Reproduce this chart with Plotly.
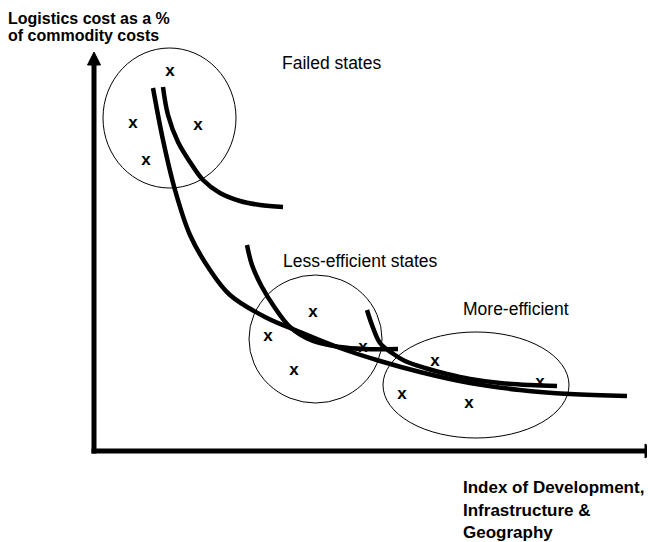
import plotly.graph_objects as go

W, H = 655, 542
PAGE_MARGIN = 8  # browser body margin; figure placed so data units == window pixels

# ---- data (diagram coordinates, window-pixel units) ----
main_x = [153, 163, 175, 190, 210, 230, 265, 300, 340, 380, 420, 470, 520, 570, 627]
main_y = [88, 140, 190, 235, 270, 295, 317, 332, 348, 361, 372, 383, 390, 394, 396]

failed_x = [163, 168, 178, 190, 203, 220, 240, 260, 283]
failed_y = [87, 115, 142, 162, 180, 193, 201, 205, 207]

less_x = [247, 252, 262, 275, 290, 313, 340, 365, 398]
less_y = [245, 265, 287, 308, 327, 341, 347, 349, 349]

more_x = [367, 372, 380, 392, 405, 425, 447, 470, 500, 530, 557]
more_y = [310, 325, 343, 353, 361, 368, 374, 379, 383, 385, 386]

marks_x = [170, 133, 198, 146, 313, 268, 294, 363, 435, 402, 469, 540]
marks_y = [73, 125, 127, 162, 314, 338, 372, 349, 363, 396, 405, 384]

# groups: (x0, y0, x1, y1)
groups = [(103, 48, 236, 188), (249, 275, 382, 403), (383, 332, 569, 438)]

labels = [
    ("Failed states", 282, 62.5, False),
    ("Less-efficient states", 283, 261, False),
    ("More-efficient", 463, 309, False),
    ("Logistics cost as a %", 8, 18.5, "a"),
    ("of commodity costs", 8, 35.5, "a"),
    ("Index of Development,", 463, 487, "b"),
    ("Infrastructure &", 463, 510, "b"),
    ("Geography", 463, 532, "b"),
]

axis_origin = (94, 451)
y_tip = 52
x_tip = 656

fig = go.Figure()

LW = 4.5
for xs, ys in [(main_x, main_y), (failed_x, failed_y), (less_x, less_y), (more_x, more_y)]:
    fig.add_trace(go.Scatter(x=xs, y=ys, mode="lines",
                             line=dict(color="black", width=LW, shape="spline", smoothing=1.0),
                             hoverinfo="skip", showlegend=False))

# axes
ox, oy = axis_origin
fig.add_trace(go.Scatter(x=[ox, ox], y=[oy + 2.5, y_tip + 10], mode="lines",
                         line=dict(color="black", width=5), showlegend=False, hoverinfo="skip"))
fig.add_trace(go.Scatter(x=[ox - 2.5, x_tip - 8], y=[oy, oy], mode="lines",
                         line=dict(color="black", width=5), showlegend=False, hoverinfo="skip"))
fig.add_trace(go.Scatter(x=[ox - 6.5, ox, ox + 6.5, ox - 6.5], y=[y_tip + 13, y_tip, y_tip + 13, y_tip + 13],
                         mode="lines", fill="toself", fillcolor="black",
                         line=dict(color="black", width=1), showlegend=False, hoverinfo="skip"))
fig.add_trace(go.Scatter(x=[x_tip - 11, x_tip, x_tip - 11, x_tip - 11], y=[oy - 7, oy, oy + 7, oy - 7],
                         mode="lines", fill="toself", fillcolor="black",
                         line=dict(color="black", width=1), showlegend=False, hoverinfo="skip"))

# x marks (lowercase bold x; glyph centre sits ~1.5px below text-box centre)
fig.add_trace(go.Scatter(x=marks_x, y=[v - 1.5 for v in marks_y], mode="text",
                         text=["<b>x</b>"] * len(marks_x),
                         textfont=dict(family="Liberation Sans, Arial", size=17, color="black"),
                         textposition="middle center", showlegend=False, hoverinfo="skip"))

for x0, y0, x1, y1 in groups:
    fig.add_shape(type="circle", xref="x", yref="y", x0=x0, y0=y0, x1=x1, y1=y1,
                  line=dict(color="black", width=1))

sizes = {False: 17.5, "a": 16, "b": 17}
for txt, x, y, style in labels:
    fig.add_annotation(x=x, y=y, xref="x", yref="y", xshift=-2,
                       text=f"<b>{txt}</b>" if style else txt,
                       showarrow=False, xanchor="left", yanchor="middle",
                       font=dict(family="Liberation Sans, Arial", size=sizes[style], color="black"))

fig.update_layout(
    width=W - PAGE_MARGIN, height=H - PAGE_MARGIN, margin=dict(l=0, r=0, t=0, b=0),
    paper_bgcolor="white", plot_bgcolor="white",
    xaxis=dict(range=[PAGE_MARGIN, W], visible=False, fixedrange=True),
    yaxis=dict(range=[H, PAGE_MARGIN], visible=False, fixedrange=True),
)

fig.write_html("out.html")
